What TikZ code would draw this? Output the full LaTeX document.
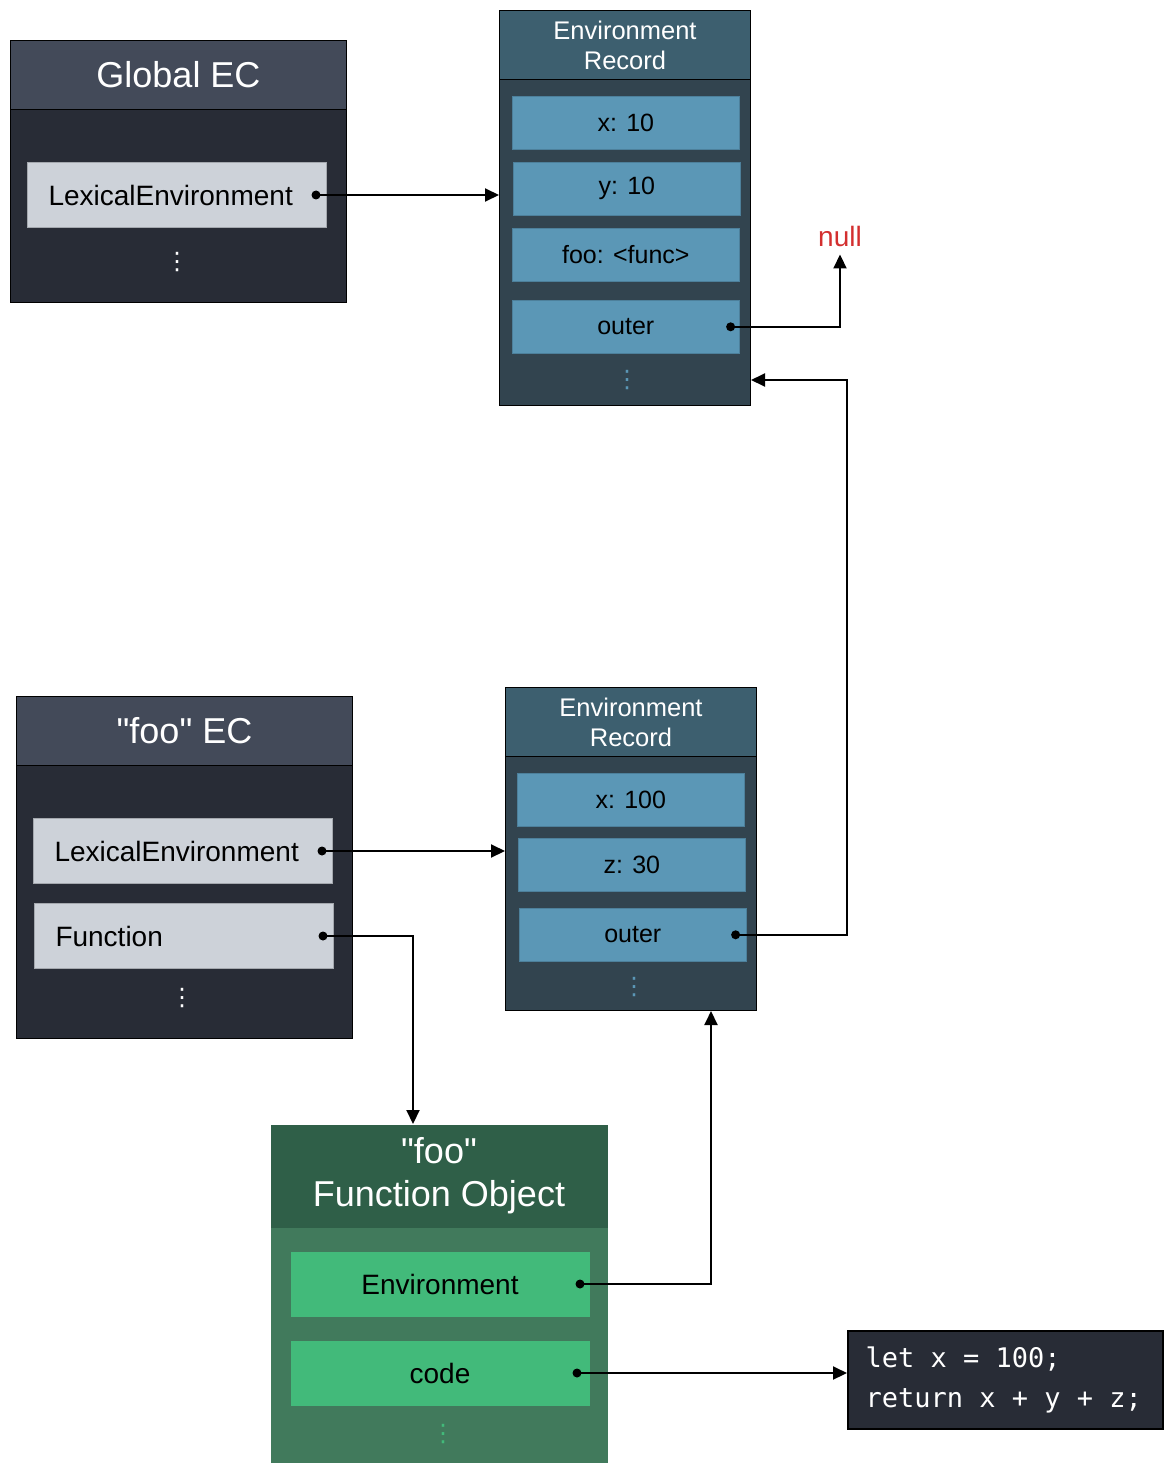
\documentclass[tikz,border=0pt]{standalone}
\usepackage{fontspec}
\setmainfont{Liberation Sans}
\newfontfamily\codefont{DejaVu Sans Mono}
\newfontfamily\dotsfont{DejaVu Sans}
\usetikzlibrary{arrows.meta}

\definecolor{ecHead}{HTML}{434A59}
\definecolor{ecBody}{HTML}{282C36}
\definecolor{leFill}{HTML}{CDD2D9}
\definecolor{erHead}{HTML}{3D5F6F}
\definecolor{erBody}{HTML}{32444F}
\definecolor{erRow}{HTML}{5B97B6}
\definecolor{foHead}{HTML}{2F5F48}
\definecolor{foBody}{HTML}{417A5C}
\definecolor{foRow}{HTML}{42BA7A}
\definecolor{nullRed}{HTML}{D32F2F}

\begin{document}
\begin{tikzpicture}[x=1pt, y=-1pt,
  box/.style={anchor=north west, inner sep=0pt, line width=1pt},
  ecbody/.style={box, draw=black, fill=ecBody, minimum width=336pt, minimum height=#1},
  echead/.style={box, draw=black, fill=ecHead, text=white, minimum width=336pt, minimum height=69pt,
    font=\fontsize{36}{40}\selectfont},
  lebox/.style={box, draw=leFill!80!black, fill=leFill, minimum height=65pt, text width=257pt,
    inner xsep=21pt, align=left, font=\fontsize{28}{32}\selectfont},
  erbody/.style={box, draw=black, fill=erBody, minimum width=251pt, minimum height=#1},
  erhead/.style={box, draw=black, fill=erHead, text=white, minimum width=251pt, minimum height=69pt,
    align=center, font=\fontsize{25.5}{30}\selectfont},
  errow/.style={box, draw=erRow!85!black, line width=0.6pt, fill=erRow, minimum width=227pt,
    minimum height=53pt, font=\fontsize{25}{28}\selectfont},
  fobody/.style={box, fill=foBody, minimum width=337pt, minimum height=338pt},
  fohead/.style={box, fill=foHead, text=white, minimum width=337pt, minimum height=103pt,
    align=center, font=\fontsize{36}{43}\selectfont},
  forow/.style={box, fill=foRow, minimum width=299pt, minimum height=65pt,
    font=\fontsize{28}{32}\selectfont},
  codebox/.style={box, draw=black, line width=2pt, fill=ecBody, text=white, minimum width=315pt,
    minimum height=98pt, text width=280pt, inner xsep=17.5pt, align=left,
    font=\codefont\fontsize{27}{40}\selectfont,
    execute at begin node={\spaceskip=0.602em\relax}},
  more/.style={text=#1, inner sep=0pt, font=\dotsfont\fontsize{24}{24}\selectfont},
  ptr/.style={circle, fill=black, inner sep=0pt, minimum size=9pt},
  arr/.style={line width=2pt, -{Triangle[length=14pt, width=13pt]}},
]
\useasboundingbox (0,0) rectangle (1171,1471);

% Global EC
\node[ecbody=262pt] (gEC) at (10,40) {};
\node[echead] (gHead) at (10,40) {Global EC};
\node[lebox] (gLE) at (27,162) {LexicalEnvironment};
\node[ptr] (gLEdot) at ([xshift=-11pt]gLE.east) {};
\node[more=white] (gMore) at (177,262) {⋮};

% Environment Record of the global EC
\node[erbody=395pt] (recA) at (499,10) {};
\node[erhead] (recAhead) at (499,10) {Environment\\Record};
\node[errow] (recAx) at (512,96) {x: 10};
\node[errow] (recAy) at (513,162) {y: 10};
\node[errow] (recAfoo) at (512,228) {foo: <func>};
\node[errow] (recAouter) at (512,300) {outer};
\node[ptr] (recAdot) at ([xshift=-9pt]recAouter.east) {};
\node[more=erRow] (recAmore) at (627,380) {⋮};

\node[text=nullRed, inner xsep=0pt, inner ysep=8pt, font=\fontsize{28}{30}\selectfont] (nullN) at (840,236) {null};

% "foo" EC
\node[ecbody=342pt] (fEC) at (16,696) {};
\node[echead] (fHead) at (16,696) {\textquotedbl foo\textquotedbl{} EC};
\node[lebox] (fLE) at (33,818) {LexicalEnvironment};
\node[ptr] (fLEdot) at ([xshift=-11pt]fLE.east) {};
\node[lebox] (fFn) at (34,903) {Function};
\node[ptr] (fFndot) at ([xshift=-11pt]fFn.east) {};
\node[more=white] (fMore) at (182,998) {⋮};

% Environment Record of the "foo" EC
\node[erbody=323pt] (recB) at (505,687) {};
\node[erhead] (recBhead) at (505,687) {Environment\\Record};
\node[errow] (recBx) at (517,773) {x: 100};
\node[errow] (recBz) at (518,838) {z: 30};
\node[errow] (recBouter) at (519,908) {outer};
\node[ptr] (recBdot) at ([xshift=-11pt]recBouter.east) {};
\node[more=erRow] (recBmore) at (634,987) {⋮};

% "foo" Function Object
\node[fobody] (fObj) at (270,1124) {};
\node[fohead] (fObjHead) at (270,1124) {\textquotedbl foo\textquotedbl\\Function Object};
\node[forow] (fObjEnv) at (290,1251) {Environment};
\node[ptr] (fObjEnvdot) at ([xshift=-10pt]fObjEnv.east) {};
\node[forow] (fObjCode) at (290,1340) {code};
\node[ptr] (fObjCodedot) at ([xshift=-13pt]fObjCode.east) {};
\node[more=foRow] (fObjMore) at (443,1434) {⋮};

% code
\node[codebox] (code) at (847,1330) {let x = 100;\\return x + y + z;};

% links
\draw[arr] (gLEdot.center) -- (gLEdot -| recA.west);
\draw[arr] (recAdot.center) -| (nullN.south);
\draw[arr] (fLEdot.center) -- (fLEdot -| recB.west);
\draw[arr] (recBdot.center) -- ++(111,0) |- (recAmore -| recA.east);
\draw[arr] (fFndot.center) -| ([xshift=-26pt]fObj.north);
\draw[arr] (fObjEnvdot.center) -| ([xshift=80pt]recB.south);
\draw[arr] (fObjCodedot.center) -- (fObjCodedot -| code.west);
\end{tikzpicture}
\end{document}
